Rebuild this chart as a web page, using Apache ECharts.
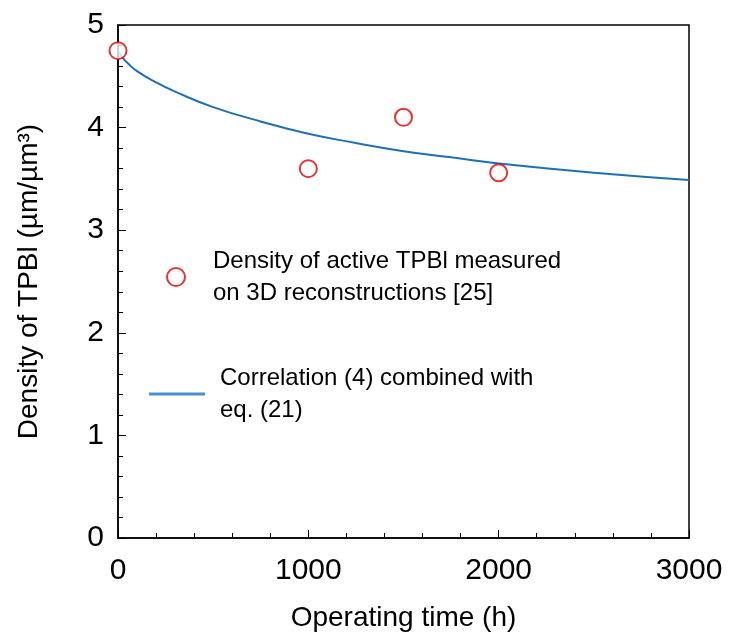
<!DOCTYPE html>
<html>
<head>
<meta charset="UTF-8">
<script src="https://cdn.jsdelivr.net/npm/echarts@6/dist/echarts.min.js"></script>
<style>html,body{margin:0;background:#fff}#main{width:737px;height:643px}</style>
</head>
<body>
<div id="main"></div>
<script>
var measuredTime = [0, 1000, 1500, 2000];
var measuredDensity = [4.75, 3.6, 4.1, 3.56];
var curveTime = [0, 25, 50, 100, 200, 300, 500, 750, 1000, 1250, 1500, 1750, 2000, 2500, 3000];
var curveDensity = [4.75, 4.68, 4.63, 4.55, 4.44, 4.35, 4.2, 4.06, 3.94, 3.85, 3.77, 3.71, 3.65, 3.56, 3.49];
var seriesNames = ['Density of active TPBl measured\non 3D reconstructions [25]', 'Correlation (4) combined with\neq. (21)'];

var myChart = echarts.init(document.getElementById('main'));
var font = 'Liberation Sans, Arial, sans-serif';
var axisCommon = {
    axisLine: { lineStyle: { color: '#000', width: 1.5 } },
    axisTick: { inside: true, length: 8, lineStyle: { color: '#000' } },
    minorTick: { show: true, splitNumber: 5, length: 5, lineStyle: { color: '#000' } },
    splitLine: { show: false },
    axisLabel: { color: '#000', fontSize: 30, fontFamily: font, formatter: function (v) { return String(v); } },
    nameTextStyle: { color: '#000', fontSize: 28, fontFamily: font }
};
myChart.setOption({
    animation: false,
    grid: { left: 118, right: 48, top: 25, bottom: 105, show: true, borderColor: '#000', borderWidth: 1.5 },
    xAxis: Object.assign({}, axisCommon, {
        type: 'value', min: 0, max: 3000, interval: 1000,
        name: 'Operating time (h)', nameLocation: 'middle', nameGap: 66,
        axisLabel: Object.assign({}, axisCommon.axisLabel, { margin: 18 })
    }),
    yAxis: Object.assign({}, axisCommon, {
        type: 'value', min: 0, max: 5, interval: 1,
        name: 'Density of TPBl (µm/µm³)', nameLocation: 'middle', nameGap: 75,
        axisLabel: Object.assign({}, axisCommon.axisLabel, { margin: 14 })
    }),
    legend: [{
        data: [{ name: seriesNames[0], icon: 'circle' }], left: 161, top: 214, itemWidth: 18, itemHeight: 18,
        itemStyle: { color: '#fff', borderColor: '#e00000', borderWidth: 2 },
        textStyle: { fontSize: 24, fontFamily: font, color: '#000', lineHeight: 32, padding: [52, 0, 0, 23] }
    }, {
        data: [{ name: seriesNames[1], icon: 'rect' }], left: 144, top: 334, itemWidth: 56, itemHeight: 3,
        itemStyle: { color: '#4a90d0' },
        textStyle: { fontSize: 24, fontFamily: font, color: '#000', lineHeight: 32, padding: [46, 0, 0, 10] }
    }],
    series: [{
        name: seriesNames[1], type: 'line', smooth: true, showSymbol: false,
        data: curveTime.map(function (t, i) { return [t, curveDensity[i]]; }),
        lineStyle: { color: '#1f6fb8', width: 2 }, itemStyle: { color: '#4a90d0' }, z: 2
    }, {
        name: seriesNames[0], type: 'scatter', symbol: 'circle', symbolSize: 17,
        data: measuredTime.map(function (t, i) { return [t, measuredDensity[i]]; }),
        itemStyle: { color: '#fff', borderColor: '#e00000', borderWidth: 2 }, z: 3
    }]
});
</script>
</body>
</html>
